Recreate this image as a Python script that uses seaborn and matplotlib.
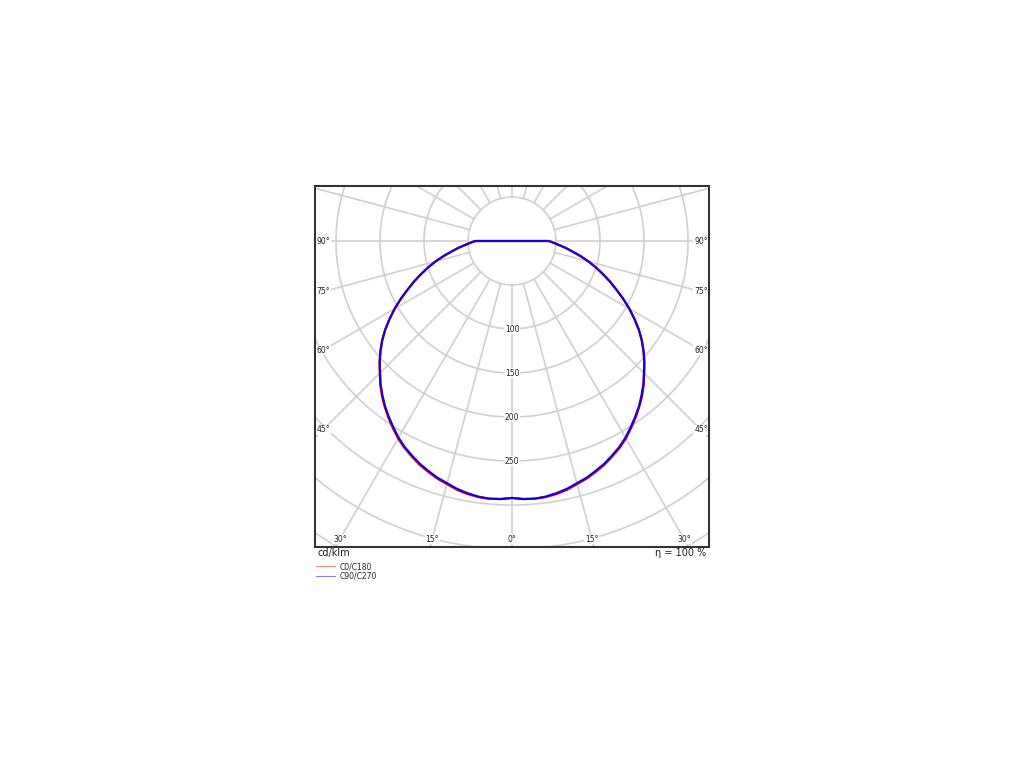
import numpy as np
import pandas as pd
import matplotlib
matplotlib.use("Agg")
import matplotlib.pyplot as plt
from matplotlib.lines import Line2D
import seaborn as sns

# ---- data (cd/klm) ----
gamma_deg = [0, 2.5, 5, 7.5, 10, 12.5, 15, 17.5, 20, 22.5, 25, 27.5, 30, 32.5, 35, 37.5,
             40, 42.5, 45, 47.5, 50, 52.5, 55, 57.5, 60, 62.5, 65, 67.5, 70, 72.5, 75,
             77.5, 80, 82.5, 85, 87.5, 90]
c0_c180 = [292, 293.5, 294, 293.5, 292, 289.5, 286, 283, 279, 275, 270, 265, 259, 252, 245, 237.5,
           230, 221.5, 212.5, 204, 195.5, 186, 176, 165, 154, 142.5, 131, 120.5, 110, 100, 90,
           80, 70, 62, 54, 47.5, 42]
c90_c270 = [292, 293.5, 294, 293, 291, 288.5, 285, 282, 278, 274, 269, 264, 258, 251, 244, 237,
            229, 221, 212, 204, 195, 186, 176, 165, 154, 142.5, 131, 120.5, 110, 100, 90,
            80, 70, 62, 54, 47.5, 42]
series_names = ["C0/C180", "C90/C270"]
series_colors = ["#ff0000", "#1e00d0"]
legend_colors = ["#ff8080", "#8080ff"]
ring_values = [50, 100, 150, 200, 250, 300, 350, 400, 450, 500]
ring_labels = [100, 150, 200, 250]
side_angle_labels = [90, 75, 60, 45]
bottom_angle_labels = [0, 15, 30]
radial_step = 15
unit_text = "cd/klm"
eta_text = "η = 100 %"

sns.set_theme(style="white")
plt.rcParams["font.family"] = ["DejaVu Sans"]

fig = plt.figure(figsize=(10.24, 7.68), dpi=100)
ax = fig.add_axes([315 / 1024, 1 - 547 / 768, 394 / 1024, 361 / 768])

px = 0.88  # pixels per cd/klm
xhalf = 197 / px
ybot = 306 / px
ytop = 55 / px
ax.set_xlim(-xhalf, xhalf)
ax.set_ylim(-ybot, ytop)

grid_col = "#d0d0d0"
t = np.linspace(0, 2 * np.pi, 720)
for r in ring_values:
    ax.plot(r * np.sin(t), r * np.cos(t), color=grid_col, lw=1.2, zorder=1)
for a in range(0, 360, radial_step):
    ar = np.deg2rad(a)
    ax.plot([ring_values[0] * np.sin(ar), 800 * np.sin(ar)],
            [-ring_values[0] * np.cos(ar), -800 * np.cos(ar)],
            color=grid_col, lw=1.2, zorder=1)

# ---- curves ----
rows = []
g = np.deg2rad(np.array(gamma_deg, dtype=float))
for name, vals in zip(series_names, [c0_c180, c90_c270]):
    v = np.array(vals, dtype=float)
    xs = list(-(v * np.sin(g))[::-1]) + list((v * np.sin(g))[1:]) + [-(v[-1] * np.sin(g[-1]))]
    ys = list(-(v * np.cos(g))[::-1]) + list(-(v * np.cos(g))[1:]) + [-(v[-1] * np.cos(g[-1]))]
    for i, (xx, yy) in enumerate(zip(xs, ys)):
        rows.append({"series": name, "x": xx, "y": yy, "order": i})
df = pd.DataFrame(rows)

sns.lineplot(data=df, x="x", y="y", hue="series", hue_order=series_names,
             palette=dict(zip(series_names, series_colors)), sort=False,
             estimator=None, lw=1.6, ax=ax, legend=False, zorder=3)

handles = [Line2D([], [], color=c, lw=0.8) for c in legend_colors]
fig.legend(handles, series_names, loc="upper left",
           bbox_to_anchor=(316 / 1024, 1 - 562 / 768), frameon=False,
           fontsize=5.5, handlelength=2.5, handletextpad=0.6,
           labelspacing=0.05, borderpad=0, borderaxespad=0)

ax.set_xlabel("")
ax.set_ylabel("")
ax.set_xticks([])
ax.set_yticks([])
for s in ax.spines.values():
    s.set_color("#333333")
    s.set_linewidth(1.5)
    s.set_zorder(5)

bb = dict(facecolor="white", edgecolor="none", pad=0.6)
for r in ring_labels:
    ax.text(0, -r, str(r), ha="center", va="center", fontsize=5.5,
            color="#222222", bbox=bb, zorder=2)

inset = 8 / px
X = xhalf - inset
for a in side_angle_labels:
    ar = np.deg2rad(a)
    y = -X * np.cos(ar) / np.sin(ar)
    for sgn in (-1, 1):
        ax.text(sgn * X, y, f"{a}°", ha="center", va="center", fontsize=5.5,
                color="#222222", bbox=bb, zorder=2)
Y = ybot - inset
for a in bottom_angle_labels:
    ar = np.deg2rad(a)
    x = Y * np.tan(ar)
    for sgn in ((1,) if a == 0 else (-1, 1)):
        ax.text(sgn * x, -Y, f"{a}°", ha="center", va="center", fontsize=5.5,
                color="#222222", bbox=bb, zorder=2)

fig.text(318 / 1024, 1 - 553 / 768, unit_text, ha="left", va="center", fontsize=7, color="#222222")
fig.text(706 / 1024, 1 - 553 / 768, eta_text, ha="right", va="center", fontsize=7, color="#222222")

fig.savefig("out.png", dpi=100)
